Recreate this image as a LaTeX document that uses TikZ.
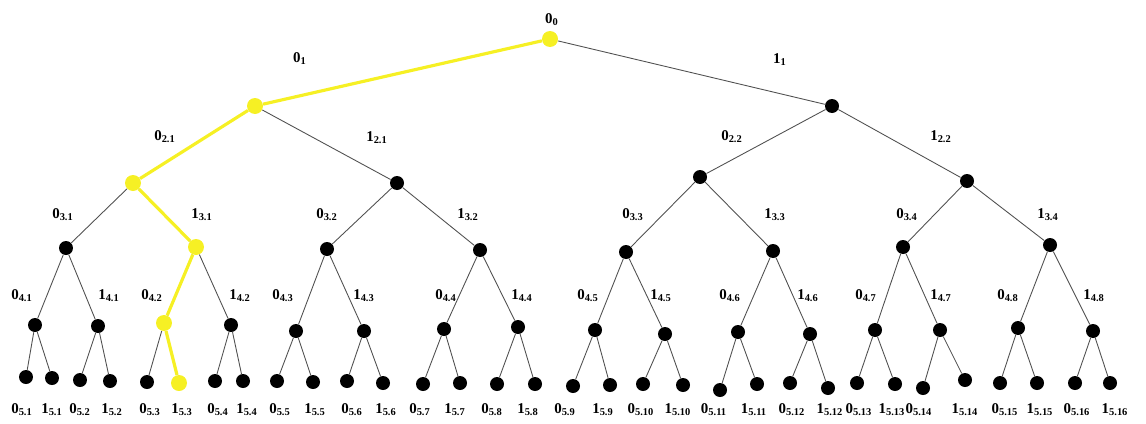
\documentclass[tikz,border=0pt]{standalone}
\usepackage{fontspec}
\setmainfont{Liberation Serif}

\definecolor{pathyellow}{RGB}{246,240,36}
\definecolor{branchgray}{RGB}{80,80,80}
\newcommand{\bitlab}[2]{#1\textsubscript{#2}}

\begin{document}
\begin{tikzpicture}[
        x=0.02cm, y=-0.02cm,
        vertex/.style={circle, fill=black, inner sep=0pt, minimum size=0.28cm},
        hivertex/.style={circle, fill=pathyellow, inner sep=0pt, minimum size=0.32cm},
        branch/.style={draw=branchgray, line width=0.5pt},
        hibranch/.style={draw=pathyellow, line width=1.8pt, line join=round},
        bitlabel/.style={font=\fontsize{8.5}{10}\selectfont\bfseries, inner sep=0pt}
    ]
        \useasboundingbox (0,0) rectangle (1146,423);

        % Root and upper levels
        \node[hivertex] (n0-1) at (550,39) {};
        \node[hivertex] (n1-1) at (255,106) {};
        \node[vertex] (n1-2) at (832,106) {};

        \node[hivertex] (n2-1) at (133,183) {};
        \node[vertex] (n2-2) at (397,183) {};
        \node[vertex] (n2-3) at (700,177) {};
        \node[vertex] (n2-4) at (967,181) {};

        \node[vertex] (n3-1) at (66,248) {};
        \node[hivertex] (n3-2) at (196,247) {};
        \node[vertex] (n3-3) at (327,249) {};
        \node[vertex] (n3-4) at (480,250) {};
        \node[vertex] (n3-5) at (626,252) {};
        \node[vertex] (n3-6) at (773,251) {};
        \node[vertex] (n3-7) at (903,247) {};
        \node[vertex] (n3-8) at (1050,245) {};

        % Level 4
        \foreach \x/\y/\s [count=\j] in {35/325/vertex, 98/326/vertex, 164/323/hivertex, 231/325/vertex,
                296/331/vertex, 364/331/vertex, 444/329/vertex, 518/327/vertex,
                595/330/vertex, 665/334/vertex, 738/332/vertex, 810/334/vertex,
                875/330/vertex, 940/330/vertex, 1018/328/vertex, 1093/331/vertex}
            \node[\s] (n4-\j) at (\x,\y) {};

        % Leaves
        \foreach \x/\y/\s [count=\j] in {26/377/vertex, 52/378/vertex, 80/380/vertex, 110/381/vertex,
                147/382/vertex, 179/383/hivertex, 215/381/vertex, 243/381/vertex,
                277/381/vertex, 313/382/vertex, 347/381/vertex, 383/383/vertex,
                423/384/vertex, 460/383/vertex, 497/384/vertex, 535/384/vertex,
                573/386/vertex, 610/385/vertex, 643/384/vertex, 683/385/vertex,
                720/390/vertex, 757/384/vertex, 790/383/vertex, 828/388/vertex,
                857/383/vertex, 895/384/vertex, 923/388/vertex, 965/380/vertex,
                1000/383/vertex, 1037/383/vertex, 1075/383/vertex, 1110/383/vertex}
            \node[\s] (n5-\j) at (\x,\y) {};

        % Branches, parent to both children
        \foreach \p/\c/\m in {0/1/1, 1/2/2, 2/3/4, 3/4/8, 4/5/16} {
            \foreach \i [evaluate=\i as \a using int(2*\i-1), evaluate=\i as \b using int(2*\i)] in {1,...,\m} {
                \draw[branch] (n\p-\i) -- (n\c-\a);
                \draw[branch] (n\p-\i) -- (n\c-\b);
            }
        }

        % Highlighted path
        \draw[hibranch] (n0-1) -- (n1-1) -- (n2-1) -- (n3-2) -- (n4-3) -- (n5-6);

        % Branch labels
        \node[bitlabel] (lab0-1) at (552,20) {\bitlab{0}{0}};
        \node[bitlabel] (lab1-1) at (300,59) {\bitlab{0}{1}};
        \node[bitlabel] (lab1-2) at (780,60) {\bitlab{1}{1}};

        \node[bitlabel] (lab2-1) at (165,137) {\bitlab{0}{2.1}};
        \node[bitlabel] (lab2-2) at (377,138) {\bitlab{1}{2.1}};
        \node[bitlabel] (lab2-3) at (732,137) {\bitlab{0}{2.2}};
        \node[bitlabel] (lab2-4) at (941,137) {\bitlab{1}{2.2}};

        \node[bitlabel] (lab3-1) at (63,215) {\bitlab{0}{3.1}};
        \node[bitlabel] (lab3-2) at (202,215) {\bitlab{1}{3.1}};
        \node[bitlabel] (lab3-3) at (327,215) {\bitlab{0}{3.2}};
        \node[bitlabel] (lab3-4) at (468,215) {\bitlab{1}{3.2}};
        \node[bitlabel] (lab3-5) at (633,215) {\bitlab{0}{3.3}};
        \node[bitlabel] (lab3-6) at (775,215) {\bitlab{1}{3.3}};
        \node[bitlabel] (lab3-7) at (907,215) {\bitlab{0}{3.4}};
        \node[bitlabel] (lab3-8) at (1048,215) {\bitlab{1}{3.4}};

        \foreach \x [count=\j, evaluate=\j as \d using {int(mod(\j+1,2))}, evaluate=\j as \k using {int((\j+1)/2)}]
                in {22, 109, 152, 240, 283, 364, 446, 522, 588, 661, 730, 808, 866, 941, 1008, 1094}
            \node[bitlabel] (lab4-\j) at (\x,296) {\bitlab{\d}{4.\k}};

        \foreach \x [count=\j, evaluate=\j as \d using {int(mod(\j+1,2))}, evaluate=\j as \k using {int((\j+1)/2)}]
                in {22, 52, 80, 112, 150, 182, 218, 247, 280, 315, 352, 386, 420, 455, 492, 528,
                    565, 603, 641, 678, 714, 754, 792, 830, 859, 892, 919, 965, 1005, 1040, 1077, 1115}
            \node[bitlabel] (lab5-\j) at (\x,410) {\bitlab{\d}{5.\k}};

    \end{tikzpicture}
\end{document}
